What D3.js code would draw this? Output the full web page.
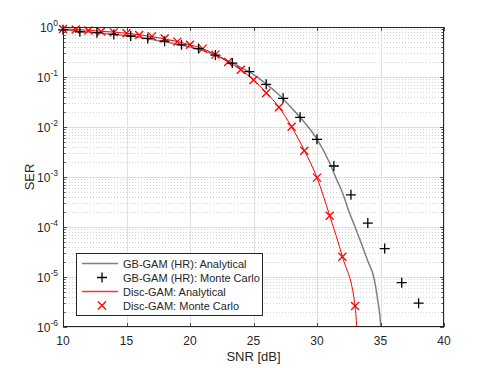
<!DOCTYPE html>
<html>
<head>
<meta charset="utf-8">
<script src="https://cdn.jsdelivr.net/npm/d3@7"></script>
<style>
  body { margin: 0; background: #fff; }
  text { font-family: "Liberation Sans", Arial, Helvetica, sans-serif; fill: #262626; }
</style>
</head>
<body>
<div id="chart"></div>
<script>
// GB-GAM (HR) analytical curve
var gbSnr = [10, 11, 12, 13, 14, 15, 16, 17, 18, 19, 20, 21, 22, 23, 24, 25, 26, 27, 28, 29, 30, 31, 31.5, 32, 32.5, 33, 33.5, 34, 34.5, 34.8, 35.0, 35.05]
var gbSer = [0.89, 0.83, 0.79, 0.75, 0.71, 0.67, 0.62, 0.56, 0.51, 0.45, 0.40, 0.34, 0.275, 0.21, 0.155, 0.112, 0.073, 0.044, 0.024, 0.0125, 0.0057, 0.0019, 9.5e-4, 4.9e-4, 2.1e-4, 1.0e-4, 4.6e-5, 2.1e-5, 9.2e-6, 3.2e-6, 1.2e-6, 7e-7]

// GB-GAM (HR) monte carlo
var gbMcSnr = [10, 11.33, 12.67, 14, 15.33, 16.67, 18, 19.33, 20.67, 22, 23.33, 24.67, 26, 27.33, 28.67, 30, 31.33, 32.67, 34, 35.33, 36.67, 38]
var gbMcSer = [0.88, 0.80, 0.77, 0.71, 0.66, 0.59, 0.52, 0.44, 0.37, 0.275, 0.19, 0.128, 0.0714, 0.0375, 0.0156, 0.00567, 0.00166, 4.4e-4, 1.2e-4, 3.7e-5, 7.7e-6, 3.0e-6]

// Disc-GAM analytical curve
var discSnr = [10, 11, 12, 13, 14, 15, 16, 17, 18, 19, 20, 21, 22, 23, 24, 25, 26, 27, 28, 29, 30, 31, 32, 33, 33.15]
var discSer = [0.91, 0.89, 0.86, 0.82, 0.79, 0.75, 0.70, 0.64, 0.58, 0.51, 0.44, 0.37, 0.28, 0.2, 0.14, 0.087, 0.049, 0.025, 0.0101, 0.0034, 0.00097, 1.68e-4, 2.55e-5, 2.63e-6, 8e-7]

// Disc-GAM monte carlo
var discMcSnr = [10, 11, 12, 13, 14, 15, 16, 17, 18, 19, 20, 21, 22, 23, 24, 25, 26, 27, 28, 29, 30, 31, 32, 33]
var discMcSer = [0.91, 0.89, 0.85, 0.81, 0.78, 0.75, 0.69, 0.65, 0.59, 0.51, 0.44, 0.37, 0.28, 0.2, 0.14, 0.087, 0.048, 0.0248, 0.0101, 0.00336, 0.00097, 1.68e-4, 2.55e-5, 2.63e-6]

var xTicks = [10, 15, 20, 25, 30, 35, 40]
var yExps = [0, -1, -2, -3, -4, -5, -6]

var legendNames = ['GB-GAM (HR): Analytical', 'GB-GAM (HR): Monte Carlo', 'Disc-GAM: Analytical', 'Disc-GAM: Monte Carlo']

var W = 491, H = 368
var pL = 63, pR = 444, pT = 27, pB = 327
var axisColor = '#262626'

var x = d3.scaleLinear().domain([10, 40]).range([pL, pR])
var y = d3.scaleLog().domain([1e-6, 1]).range([pB, pT])

var svg = d3.select('#chart').append('svg').attr('width', W).attr('height', H)

svg.append('defs').append('clipPath').attr('id', 'clip')
  .append('rect').attr('x', pL).attr('y', pT).attr('width', pR - pL).attr('height', pB - pT)

// minor grid (2..9 in each decade)
var minorVals = []
for (var e = -6; e < 0; e++) {
  for (var m = 2; m <= 9; m++) minorVals.push(m * Math.pow(10, e))
}
svg.append('g').selectAll('line').data(minorVals).join('line')
  .attr('x1', pL).attr('x2', pR)
  .attr('y1', d => Math.round(y(d)) + 0.5).attr('y2', d => Math.round(y(d)) + 0.5)
  .attr('stroke', '#c8c8c8').attr('stroke-width', 0.8).attr('stroke-dasharray', '1,2')

// major grid
svg.append('g').selectAll('line').data(xTicks).join('line')
  .attr('x1', d => Math.round(x(d)) + 0.5).attr('x2', d => Math.round(x(d)) + 0.5)
  .attr('y1', pT).attr('y2', pB)
  .attr('stroke', '#e0e0e0').attr('stroke-width', 1)
svg.append('g').selectAll('line').data(yExps).join('line')
  .attr('x1', pL).attr('x2', pR)
  .attr('y1', d => Math.round(y(Math.pow(10, d))) + 0.5).attr('y2', d => Math.round(y(Math.pow(10, d))) + 0.5)
  .attr('stroke', '#e0e0e0').attr('stroke-width', 1)

// curves
var line = d3.line().x(d => x(d[0])).y(d => y(d[1])).curve(d3.curveMonotoneX)
var plot = svg.append('g').attr('clip-path', 'url(#clip)')

plot.append('path').datum(d3.zip(gbSnr, gbSer))
  .attr('d', line).attr('fill', 'none').attr('stroke', '#808080').attr('stroke-width', 1.5)
plot.append('path').datum(d3.zip(discSnr, discSer))
  .attr('d', line).attr('fill', 'none').attr('stroke', '#ff0000').attr('stroke-width', 1)

var plusPath = 'M-5,0H5M0,-5V5'
var crossPath = 'M-4,-4L4,4M-4,4L4,-4'

svg.append('g').selectAll('path').data(d3.zip(discMcSnr, discMcSer)).join('path')
  .attr('transform', d => 'translate(' + x(d[0]) + ',' + y(d[1]) + ')')
  .attr('d', crossPath).attr('stroke', '#ff0000').attr('stroke-width', 1.3).attr('fill', 'none')

svg.append('g').selectAll('path').data(d3.zip(gbMcSnr, gbMcSer)).join('path')
  .attr('transform', d => 'translate(' + x(d[0]) + ',' + y(d[1]) + ')')
  .attr('d', plusPath).attr('stroke', '#000').attr('stroke-width', 1.3).attr('fill', 'none')

// axes box
svg.append('rect').attr('x', pL + 0.5).attr('y', pT + 0.5)
  .attr('width', pR - pL - 1).attr('height', pB - pT - 1)
  .attr('fill', 'none').attr('stroke', axisColor).attr('stroke-width', 1)

// ticks (inward, on all sides)
var tk = 4
var ticks = svg.append('g').attr('stroke', axisColor).attr('stroke-width', 0.8)
xTicks.forEach(function(t) {
  var px = Math.round(x(t)) + 0.5
  ticks.append('line').attr('x1', px).attr('x2', px).attr('y1', pB).attr('y2', pB - tk)
  ticks.append('line').attr('x1', px).attr('x2', px).attr('y1', pT).attr('y2', pT + tk)
})
yExps.forEach(function(t) {
  var py = Math.round(y(Math.pow(10, t))) + 0.5
  ticks.append('line').attr('x1', pL).attr('x2', pL + tk).attr('y1', py).attr('y2', py)
  ticks.append('line').attr('x1', pR).attr('x2', pR - tk).attr('y1', py).attr('y2', py)
})
minorVals.forEach(function(v) {
  var py = Math.round(y(v)) + 0.5
  ticks.append('line').attr('x1', pL).attr('x2', pL + 2.5).attr('y1', py).attr('y2', py)
  ticks.append('line').attr('x1', pR).attr('x2', pR - 2.5).attr('y1', py).attr('y2', py)
})

// tick labels
svg.append('g').selectAll('text').data(xTicks).join('text')
  .attr('x', d => x(d)).attr('y', pB + 18)
  .attr('text-anchor', 'middle').attr('font-size', 12)
  .text(d => d)

var yl = svg.append('g').selectAll('text').data(yExps).join('text')
  .attr('x', pL - 5).attr('y', d => y(Math.pow(10, d)) + 5)
  .attr('text-anchor', 'end').attr('font-size', 12)
yl.append('tspan').text('10')
yl.append('tspan').attr('dy', -6).attr('font-size', 8.5).text(d => d)

// axis labels
svg.append('text').attr('x', (pL + pR) / 2).attr('y', 361)
  .attr('text-anchor', 'middle').attr('font-size', 13).text('SNR [dB]')
svg.append('text').attr('transform', 'translate(34,' + ((pT + pB) / 2) + ') rotate(-90)')
  .attr('text-anchor', 'middle').attr('font-size', 13).text('SER')

// legend
var lg = svg.append('g')
lg.append('rect').attr('x', 76.5).attr('y', 253.5).attr('width', 186).attr('height', 62)
  .attr('fill', '#fff').attr('stroke', axisColor).attr('stroke-width', 1)
var legY = [263.5, 277.5, 291.5, 305.5]
legendNames.forEach(function(name, i) {
  var ly = legY[i]
  if (i == 0) lg.append('line').attr('x1', 82).attr('x2', 118).attr('y1', ly).attr('y2', ly).attr('stroke', '#808080').attr('stroke-width', 1.5)
  if (i == 2) lg.append('line').attr('x1', 82).attr('x2', 118).attr('y1', ly).attr('y2', ly).attr('stroke', '#ff3030').attr('stroke-width', 1.4)
  if (i == 1) lg.append('path').attr('transform', 'translate(102,' + ly + ')').attr('d', plusPath).attr('stroke', '#000').attr('stroke-width', 1.3)
  if (i == 3) lg.append('path').attr('transform', 'translate(102,' + ly + ')').attr('d', crossPath).attr('stroke', '#ff0000').attr('stroke-width', 1.3)
  lg.append('text').attr('x', 123).attr('y', ly + 4).attr('font-size', 11).text(name)
})
</script>
</body>
</html>
